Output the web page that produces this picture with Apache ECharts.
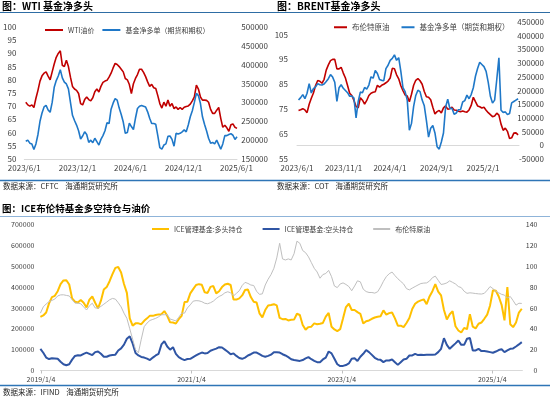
<!DOCTYPE html>
<html>
<head>
<meta charset="utf-8">
<script src="https://cdn.jsdelivr.net/npm/echarts@6/dist/echarts.min.js"></script>
<style>
html, body { margin: 0; padding: 0; background: #fff; }
#chart { width: 550px; height: 399px; }
</style>
</head>
<body>
<div id="chart"></div>
<script>
// ---- WTI: weekly CFTC data, first week 2023-06-06 ----
var wtiStart = '2023-06-06';
var wtiPrice = [
  71.5, 70.5, 70, 70.5, 69.5, 73, 76, 79.5, 81.5, 82.5,
  83, 81.4, 80, 83, 86, 88.5, 90, 91, 85.5, 85,
  87.4, 85, 81, 77.5, 76.5, 76, 74.8, 71, 70.5, 72.5,
  73.5, 72.5, 72, 73.2, 75.5, 76.5, 75.4, 77.5, 79, 79.5,
  79.8, 81, 82.5, 84.5, 86.2, 85.8, 85, 84, 83, 80.5,
  80, 78.2, 74.8, 78.5, 80.5, 82, 84, 84, 82.8, 81.2,
  79.2, 77.5, 78.3, 77, 76.7, 74, 71, 69.3, 71.5, 70,
  72.3, 70, 71, 69.1, 69.7, 68.8, 69.5, 68.8, 69.6, 69.9,
  70.1, 70.8, 72, 73.5, 78, 76.5, 73.5, 72.3, 72.3, 72.2,
  71.5, 68.8, 67.3, 67.3, 68.5, 69.5, 65.4, 62, 62.8, 61.8,
  60.5, 63, 63.3, 62, 61.6
];
var wtiNetLong = [
  197000, 200000, 192000, 190000, 175000, 190000, 215000, 250000, 272000, 288000,
  292000, 280000, 274000, 300000, 340000, 358000, 370000, 387000, 365000, 354000,
  349000, 336000, 300000, 266000, 252000, 240000, 225000, 203000, 211000, 222000,
  215000, 194000, 200000, 193000, 205000, 196000, 187000, 202000, 212000, 225000,
  246000, 244000, 282000, 298000, 310000, 306000, 285000, 268000, 248000, 218000,
  220000, 245000, 236000, 228000, 258000, 284000, 290000, 292000, 290000, 288000,
  275000, 258000, 244000, 244000, 242000, 212000, 180000, 176000, 187000, 190000,
  210000, 211000, 202000, 184000, 218000, 216000, 218000, 222000, 227000, 222000,
  240000, 262000, 278000, 300000, 324000, 318000, 297000, 262000, 242000, 225000,
  205000, 192000, 194000, 190000, 200000, 188000, 176000, 190000, 212000, 212000,
  215000, 217000, 213000, 202000, 209000
];
var wtiTicks = ['2023/6/1', '2023/12/1', '2024/6/1', '2024/12/1', '2025/6/1'];

// ---- BRENT: weekly COT data, first week 2023-06-06 ----
var brentStart = '2023-06-06';
var brentPrice = [
  74.5, 74.8, 75.2, 74.7, 73.6, 77, 79.4, 81.5, 84.5, 86.5,
  86.2, 85.4, 87, 90.7, 92.8, 94.5, 95, 95, 91.2, 91.2,
  91.8, 89.5, 87.5, 84.5, 81.4, 80.5, 78.5, 76.1, 75.5, 79.6,
  78.6, 77, 78.5, 80.5, 81.4, 81.8, 82, 84.6, 83.9, 84.6,
  85, 85.6, 86.3, 87.5, 91.4, 91.2, 88.8, 87.2, 84.4, 82.4,
  80.7, 80.3, 78, 81, 84.6, 86.6, 87.3, 86.4, 85, 82.1,
  80, 79.8, 78.8, 75.8, 73.1, 74, 74.5, 73.5, 75.5, 76.3,
  75, 75.2, 75.8, 74.7, 74.6, 74.2, 74, 74.3, 74, 73.8,
  74.7, 76.5, 79.8, 78, 76.3, 76, 75.5, 75.8, 74.6, 73.6,
  72.8, 72, 72.3, 73.4, 72.6, 69, 66.5, 67.4, 66.1, 63.2,
  63.5, 65.4, 65.5, 64.7
];
var brentNetLong = [
  165000, 174000, 185000, 170000, 190000, 225000, 191000, 207000, 213000, 225000,
  221000, 220000, 224000, 233000, 243000, 258000, 249000, 230000, 160000, 210000,
  221000, 208000, 200000, 192000, 179000, 180000, 172000, 100000, 160000, 194000,
  192000, 211000, 205000, 220000, 250000, 245000, 273000, 262000, 240000, 237000,
  236000, 280000, 292000, 310000, 317000, 330000, 310000, 320000, 270000, 210000,
  196000, 165000, 55000, 80000, 142000, 182000, 201000, 196000, 165000, 144000,
  90000, 30000, 62000, 72000, 45000, -5000, -14000, 12000, 45000, 140000,
  168000, 134000, 135000, 113000, 118000, 130000, 130000, 158000, 163000, 183000,
  170000, 185000, 210000, 252000, 280000, 303000, 295000, 287000, 270000, 230000,
  179000, 154000, 165000, 240000, 319000, 128000, 120000, 122000, 112000, 116000,
  155000, 160000, 165000, 170000
];
var brentTicks = ['2023/6/1', '2023/11/1', '2024/4/1', '2024/9/1', '2025/2/1'];

// ---- ICE managed money, every second week from 2019-01-01 ----
var iceStart = '2019-01-01';
var iceLong = [
  257000, 264000, 278000, 322000, 352000, 358000, 380000, 414000, 432000, 433000,
  412000, 346000, 330000, 326000, 338000, 325000, 302000, 340000, 355000, 325000,
  298000, 335000, 388000, 400000, 428000, 462000, 492000, 496000, 470000, 415000,
  372000, 250000, 215000, 226000, 226000, 222000, 238000, 250000, 263000, 262000,
  266000, 269000, 270000, 285000, 262000, 231000, 230000, 225000, 246000, 262000,
  328000, 330000, 370000, 390000, 410000, 414000, 411000, 375000, 372000, 401000,
  405000, 370000, 380000, 400000, 412000, 416000, 410000, 340000, 340000, 346000,
  360000, 386000, 388000, 352000, 330000, 326000, 274000, 255000, 290000, 312000,
  314000, 318000, 312000, 252000, 246000, 247000, 240000, 243000, 244000, 272000,
  266000, 218000, 196000, 208000, 210000, 226000, 222000, 224000, 228000, 258000,
  276000, 210000, 197000, 189000, 198000, 250000, 304000, 320000, 290000, 290000,
  280000, 272000, 225000, 236000, 240000, 248000, 254000, 258000, 260000, 288000,
  268000, 275000, 278000, 250000, 215000, 215000, 208000, 228000, 252000, 295000,
  320000, 330000, 336000, 341000, 318000, 355000, 380000, 414000, 378000, 360000,
  290000, 245000, 270000, 284000, 212000, 192000, 182000, 204000, 198000, 270000,
  210000, 202000, 224000, 230000, 248000, 268000, 312000, 385000, 382000, 355000,
  315000, 240000, 400000, 222000, 208000, 230000, 278000, 296000
];
var iceShort = [
  104000, 85000, 62000, 55000, 59000, 58000, 56000, 42000, 30000, 25000,
  30000, 52000, 70000, 73000, 72000, 80000, 86000, 80000, 74000, 88000,
  91000, 80000, 66000, 66000, 72000, 74000, 76000, 96000, 106000, 124000,
  152000, 164000, 130000, 84000, 72000, 65000, 62000, 57000, 50000, 62000,
  72000, 80000, 125000, 140000, 115000, 100000, 112000, 80000, 64000, 56000,
  50000, 55000, 56000, 64000, 72000, 80000, 86000, 82000, 84000, 95000,
  100000, 105000, 112000, 110000, 100000, 90000, 78000, 82000, 70000, 60000,
  56000, 62000, 72000, 78000, 86000, 86000, 78000, 70000, 66000, 70000,
  76000, 88000, 88000, 86000, 78000, 72000, 64000, 54000, 50000, 48000,
  46000, 50000, 58000, 64000, 54000, 46000, 40000, 40000, 53000, 62000,
  91000, 82000, 56000, 30000, 21000, 22000, 26000, 34000, 56000, 59000,
  46000, 66000, 80000, 98000, 88000, 75000, 61000, 53000, 51000, 40000,
  48000, 48000, 53000, 40000, 27000, 40000, 53000, 56000, 72000, 72000,
  80000, 74000, 75000, 74000, 75000, 75000, 75000, 77000, 88000, 104000,
  155000, 123000, 104000, 117000, 130000, 144000, 123000, 123000, 152000, 156000,
  96000, 96000, 104000, 93000, 93000, 91000, 88000, 85000, 91000, 98000,
  102000, 88000, 96000, 104000, 106000, 115000, 125000, 136000
];
var icePrice = [
  55, 61, 63.8, 66, 67.2, 68.5, 71.5, 72.5, 72.6, 72,
  71.5, 68, 64.6, 64.6, 64, 61, 58, 62, 64.5, 60,
  59.8, 61.5, 63.6, 65.6, 67.8, 69.1, 68.5, 65, 61, 55,
  50, 40, 30, 20, 17, 30, 42, 45.5, 48, 49,
  50, 51.5, 53.5, 53.5, 53.6, 49.3, 48.5, 47.5, 51, 55,
  55, 60, 63, 66.5, 67, 66.8, 66, 64.5, 64, 65,
  66.5, 69, 71, 72.3, 74.5, 75.5, 74.5, 71.5, 74, 76.5,
  81.5, 84.5, 83.5, 82, 81.5, 76, 73, 73.5, 82, 87.5,
  92, 98, 108, 122, 107, 106, 107, 106, 112, 124,
  122, 115, 113, 109, 103.5, 98, 94.5, 88.5, 92, 93,
  96, 90, 81, 79.5, 83, 84, 82.5, 80.5, 76.5, 81,
  86, 85, 78, 75.7, 74.8, 74.8, 74.2, 75.5, 80, 85.5,
  90, 92.8, 94.4, 91, 88, 85.5, 83, 78.5, 77.3, 79,
  80.5, 82, 83.4, 83.8, 84, 85.8, 89, 90.5, 86.5, 82.5,
  83, 84, 86, 84.5, 83, 80.5, 79.5, 76, 74, 74.5,
  74.2, 73.8, 73.5, 73.3, 74, 77, 80.5, 78.5, 76, 74.5,
  73, 72.3, 69.5, 71, 67, 62.7, 64.5, 64.3
];
var iceTicks = ['2019/1/4', '2021/1/4', '2023/1/4', '2025/1/4'];

var FONT = 'Noto Sans CJK SC';
var DAY = 86400000;

function utc(s) {
  var p = s.split(/[-\/]/);
  return Date.UTC(+p[0], +p[1] - 1, +p[2]);
}
function dated(start, stepDays, vals) {
  var t0 = utc(start);
  return vals.map(function (v, i) { return [t0 + i * stepDays * DAY, v]; });
}
function fmtDate(v) {
  var d = new Date(v);
  return d.getUTCFullYear() + '/' + (d.getUTCMonth() + 1) + '/' + d.getUTCDate();
}

function dateAxis(grid, min, max, ticks, fontSize, withTicks) {
  return {
    gridIndex: grid,
    type: 'value',
    min: utc(min),
    max: utc(max),
    splitLine: { show: false },
    axisLine: { show: true, lineStyle: { color: '#d9d9d9' } },
    axisTick: {
      show: withTicks,
      length: 3,
      customValues: ticks.map(utc),
      lineStyle: { color: '#bfbfbf' }
    },
    axisLabel: {
      customValues: ticks.map(utc),
      formatter: fmtDate,
      color: '#404040',
      fontSize: fontSize,
      fontFamily: FONT,
      margin: 5
    }
  };
}

function valueAxis(grid, pos, min, max, interval, margin, fontSize, extra) {
  var ax = {
    gridIndex: grid,
    type: 'value',
    position: pos,
    min: min,
    max: max,
    interval: interval,
    splitLine: { show: false },
    axisLine: { show: false },
    axisTick: { show: false },
    axisLabel: {
      color: '#404040',
      fontSize: fontSize,
      fontFamily: FONT,
      margin: margin,
      align: 'right',
      formatter: function (v) { return String(v); }
    }
  };
  if (extra) Object.assign(ax.axisLabel, extra);
  return ax;
}

var chart = echarts.init(document.getElementById('chart'));
chart.setOption({
  animation: false,
  backgroundColor: '#fff',
  grid: [
    { left: 21, top: 27, width: 216, height: 132 },
    { left: 297, top: 22, width: 222, height: 137 },
    { left: 40.4, top: 224.5, width: 482, height: 146 }
  ],
  legend: [
    {
      left: 45, top: 26.5, padding: 0, icon: 'rect', itemWidth: 18, itemHeight: 2, itemGap: 8,
      textStyle: { color: '#404040', fontSize: 7, fontFamily: FONT },
      data: [
        { name: 'WTI油价', itemStyle: { color: '#c00000' } },
        { name: '基金净多单（期货和期权）', itemStyle: { color: '#1f78c8' } }
      ]
    },
    {
      left: 334, top: 23.5, padding: 0, icon: 'rect', itemWidth: 13, itemHeight: 2, itemGap: 12,
      textStyle: { color: '#404040', fontSize: 7.5, fontFamily: FONT },
      data: [
        { name: '布伦特原油', itemStyle: { color: '#c00000' } },
        { name: '基金净多单（期货和期权）', itemStyle: { color: '#1f78c8' } }
      ]
    },
    {
      left: 152, top: 225.5, padding: 0, icon: 'rect', itemWidth: 17, itemHeight: 2, itemGap: 20,
      textStyle: { color: '#404040', fontSize: 7, fontFamily: FONT },
      data: [
        { name: 'ICE管理基金:多头持仓', itemStyle: { color: '#ffc000' } },
        { name: 'ICE管理基金:空头持仓', itemStyle: { color: '#2f55a4' } },
        { name: '布伦特原油', itemStyle: { color: '#bfbfbf' } }
      ]
    }
  ],
  xAxis: [
    dateAxis(0, '2023-06-01', '2025-06-03', wtiTicks, 8, false),
    dateAxis(1, '2023-06-01', '2025-05-30', brentTicks, 8, false),
    dateAxis(2, '2019-01-01', '2025-05-30', iceTicks, 7, true)
  ],
  yAxis: [
    valueAxis(0, 'left', 50, 100, 5, 8, 8),
    valueAxis(0, 'right', 150000, 500000, 50000, 31, 8),
    valueAxis(1, 'left', 55, 110, 10, 9, 8, { showMaxLabel: false }),
    valueAxis(1, 'right', -50000, 450000, 50000, 25, 8),
    valueAxis(2, 'left', 0, 700000, 100000, 6, 7),
    valueAxis(2, 'right', 0, 140, 20, 15, 7)
  ],
  series: [
    {
      name: 'WTI油价', type: 'line', xAxisIndex: 0, yAxisIndex: 0, showSymbol: false,
      lineStyle: { color: '#c00000', width: 1.6 }, itemStyle: { color: '#c00000' },
      data: dated(wtiStart, 7, wtiPrice)
    },
    {
      name: '基金净多单（期货和期权）', type: 'line', xAxisIndex: 0, yAxisIndex: 1, showSymbol: false,
      lineStyle: { color: '#1f78c8', width: 1.6 }, itemStyle: { color: '#1f78c8' },
      data: dated(wtiStart, 7, wtiNetLong)
    },
    {
      name: '布伦特原油', type: 'line', xAxisIndex: 1, yAxisIndex: 2, showSymbol: false,
      lineStyle: { color: '#c00000', width: 1.6 }, itemStyle: { color: '#c00000' },
      data: dated(brentStart, 7, brentPrice)
    },
    {
      name: '基金净多单（期货和期权）', type: 'line', xAxisIndex: 1, yAxisIndex: 3, showSymbol: false,
      lineStyle: { color: '#1f78c8', width: 1.6 }, itemStyle: { color: '#1f78c8' },
      data: dated(brentStart, 7, brentNetLong)
    },
    {
      name: 'ICE管理基金:多头持仓', type: 'line', xAxisIndex: 2, yAxisIndex: 4, showSymbol: false,
      lineStyle: { color: '#ffc000', width: 2 }, itemStyle: { color: '#ffc000' },
      data: dated(iceStart, 14, iceLong)
    },
    {
      name: 'ICE管理基金:空头持仓', type: 'line', xAxisIndex: 2, yAxisIndex: 4, showSymbol: false,
      lineStyle: { color: '#2f55a4', width: 2 }, itemStyle: { color: '#2f55a4' },
      data: dated(iceStart, 14, iceShort)
    },
    {
      name: '布伦特原油', type: 'line', xAxisIndex: 2, yAxisIndex: 5, showSymbol: false,
      lineStyle: { color: '#bfbfbf', width: 1 }, itemStyle: { color: '#bfbfbf' },
      data: dated(iceStart, 14, icePrice)
    }
  ],
  graphic: [
    { type: 'text', left: 2, top: 1, style: { text: '图：WTI 基金净多头', fontSize: 10, fontWeight: 'bold', fontFamily: FONT, fill: '#000' } },
    { type: 'text', left: 277, top: 1, style: { text: '图：BRENT基金净多头', fontSize: 10, fontWeight: 'bold', fontFamily: FONT, fill: '#000' } },
    { type: 'line', shape: { x1: 0, y1: 12.5, x2: 550, y2: 12.5 }, style: { stroke: '#2e6da4', lineWidth: 1 } },
    { type: 'line', shape: { x1: 0, y1: 180.5, x2: 550, y2: 180.5 }, style: { stroke: '#2e75b6', lineWidth: 1.5 } },
    { type: 'text', left: 3, top: 182, style: { text: '数据来源：CFTC    海通期货研究所', fontSize: 7.5, fontFamily: FONT, fill: '#262626' } },
    { type: 'text', left: 277, top: 182, style: { text: '数据来源：COT    海通期货研究所', fontSize: 7.5, fontFamily: FONT, fill: '#262626' } },
    { type: 'text', left: 2, top: 204, style: { text: '图：ICE布伦特基金多空持仓与油价', fontSize: 9.5, fontWeight: 'bold', fontFamily: FONT, fill: '#000' } },
    { type: 'line', shape: { x1: 0, y1: 216.5, x2: 550, y2: 216.5 }, style: { stroke: '#8fb4d9', lineWidth: 1 } },
    { type: 'line', shape: { x1: 0, y1: 385.5, x2: 550, y2: 385.5 }, style: { stroke: '#2e75b6', lineWidth: 1.5 } },
    { type: 'text', left: 3, top: 388, style: { text: '数据来源：IFIND    海通期货研究所', fontSize: 7.5, fontFamily: FONT, fill: '#262626' } }
  ]
});
</script>
</body>
</html>
